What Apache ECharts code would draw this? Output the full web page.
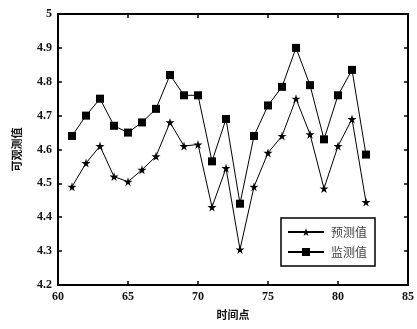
<!DOCTYPE html>
<html>
<head>
<meta charset="utf-8">
<script src="https://cdn.jsdelivr.net/npm/echarts@6/dist/echarts.min.js"></script>
<style>
  html, body { margin: 0; padding: 0; background: #fff; }
  #chart { width: 417px; height: 329px; }
</style>
</head>
<body>
<div id="chart"></div>
<script>
// Time points along the x axis
const timePoints = [61, 62, 63, 64, 65, 66, 67, 68, 69, 70, 71, 72, 73, 74, 75, 76, 77, 78, 79, 80, 81, 82];
// Predicted values
const predicted = [4.49, 4.56, 4.61, 4.52, 4.505, 4.54, 4.58, 4.68, 4.61, 4.615, 4.43, 4.545, 4.305, 4.49, 4.59, 4.64, 4.75, 4.645, 4.485, 4.61, 4.69, 4.445];
// Monitored values
const monitored = [4.64, 4.70, 4.75, 4.67, 4.65, 4.68, 4.72, 4.82, 4.76, 4.76, 4.565, 4.69, 4.44, 4.64, 4.73, 4.785, 4.90, 4.79, 4.63, 4.76, 4.835, 4.585];
// Axis ranges and tick steps
const xRange = [60, 85, 5];
const yRange = [4.2, 5.0, 0.1];
const seriesNames = ['预测值', '监测值'];
const xTitle = '时间点';
const yTitle = '可观测值';

const starPath = 'path://M50,0 L61,35 L98,35 L68,57 L79,91 L50,70 L21,91 L32,57 L2,35 L39,35 Z';
const labelFont = { fontFamily: 'Liberation Serif', fontWeight: 'bold', fontSize: 12, color: '#111' };

const chart = echarts.init(document.getElementById('chart'));
const xBase = {
  type: 'value', min: xRange[0], max: xRange[1], interval: xRange[2],
  axisLine: { show: true, onZero: false, lineStyle: { color: '#000', width: 2 } },
  axisTick: { show: true, inside: true, length: 4, lineStyle: { color: '#000', width: 1.5 } },
  splitLine: { show: false }
};
const yBase = {
  type: 'value', min: yRange[0], max: yRange[1], interval: yRange[2],
  axisLine: { show: true, onZero: false, lineStyle: { color: '#000', width: 2 } },
  axisTick: { show: true, inside: true, length: 4, lineStyle: { color: '#000', width: 1.5 } },
  splitLine: { show: false }
};

chart.setOption({
  animation: false,
  backgroundColor: '#fff',
  grid: { left: 58, right: 8, top: 14, bottom: 44 },
  xAxis: [
    Object.assign({}, xBase, {
      position: 'bottom',
      axisLabel: Object.assign({ margin: 6 }, labelFont),
      name: xTitle, nameLocation: 'middle', nameGap: 24,
      nameTextStyle: { fontFamily: 'Noto Sans CJK SC', fontWeight: 'bold', fontSize: 11, color: '#111' }
    }),
    Object.assign({}, xBase, { position: 'top', axisLabel: { show: false } })
  ],
  yAxis: [
    Object.assign({}, yBase, {
      position: 'left',
      axisLabel: Object.assign({ margin: 6, formatter: v => (Math.round(v * 10) / 10).toString() }, labelFont),
      name: yTitle, nameLocation: 'middle', nameGap: 36, nameRotate: 90,
      nameTextStyle: { fontFamily: 'Noto Sans CJK SC', fontWeight: 'bold', fontSize: 11, color: '#111' }
    }),
    Object.assign({}, yBase, { position: 'right', axisLabel: { show: false } })
  ],
  legend: {
    left: 281, top: 218,
    orient: 'vertical',
    padding: [8, 8, 8, 6],
    itemGap: 8,
    itemWidth: 36, itemHeight: 10,
    borderColor: '#000', borderWidth: 1.5,
    backgroundColor: '#fff',
    textStyle: { fontFamily: 'Noto Sans CJK SC', fontSize: 12, color: '#444', padding: [0, 0, 0, 2] },
    data: seriesNames
  },
  series: [
    {
      name: seriesNames[0], type: 'line',
      data: timePoints.map((t, i) => [t, predicted[i]]),
      symbol: starPath, symbolSize: 9,
      itemStyle: { color: '#000' },
      lineStyle: { color: '#000', width: 1 }
    },
    {
      name: seriesNames[1], type: 'line',
      data: timePoints.map((t, i) => [t, monitored[i]]),
      symbol: 'rect', symbolSize: 8,
      itemStyle: { color: '#000' },
      lineStyle: { color: '#000', width: 1 }
    }
  ]
});
</script>
</body>
</html>
